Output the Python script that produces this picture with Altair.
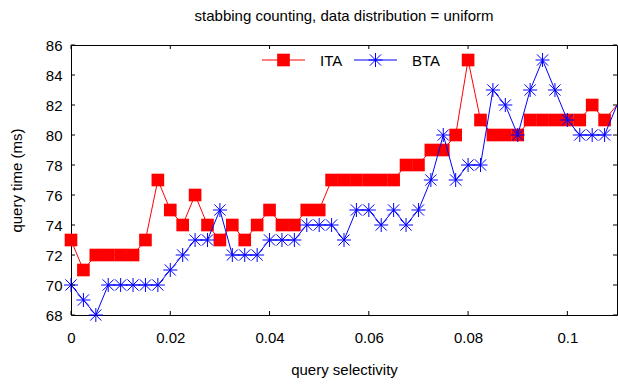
import altair as alt
import pandas as pd

# query selectivity (x) and measured query times in ms for both structures
SELECTIVITY = [0.0, 0.0025, 0.005, 0.0075, 0.01, 0.0125, 0.015, 0.0175, 0.02, 0.0225,
               0.025, 0.0275, 0.03, 0.0325, 0.035, 0.0375, 0.04, 0.0425, 0.045, 0.0475,
               0.05, 0.0525, 0.055, 0.0575, 0.06, 0.0625, 0.065, 0.0675, 0.07, 0.0725,
               0.075, 0.0775, 0.08, 0.0825, 0.085, 0.0875, 0.09, 0.0925, 0.095, 0.0975,
               0.1, 0.1025, 0.105, 0.1075, 0.11]
ITA = [73, 71, 72, 72, 72, 72, 73, 77, 75, 74, 76, 74, 73, 74, 73, 74, 75, 74, 74, 75,
       75, 77, 77, 77, 77, 77, 77, 78, 78, 79, 79, 80, 85, 81, 80, 80, 80, 81, 81, 81,
       81, 81, 82, 81, 82]
BTA = [70, 69, 68, 70, 70, 70, 70, 70, 71, 72, 73, 73, 75, 72, 72, 72, 73, 73, 73, 74,
       74, 74, 73, 75, 75, 74, 75, 74, 75, 77, 80, 77, 78, 78, 83, 82, 80, 83, 85, 83,
       81, 80, 80, 80, 82]

SERIES = ["ITA", "BTA"]
COLORS = ["#ff0000", "#0000ff"]
X_TICKS = [0, 0.02, 0.04, 0.06, 0.08, 0.1]
Y_TICKS = [68, 70, 72, 74, 76, 78, 80, 82, 84, 86]
X_MAX = 0.11
Y_MIN, Y_MAX = 68, 86
TITLE = "stabbing counting, data distribution = uniform"

FONT = "Liberation Sans"
W, H = 546, 270
TICK = 4
STAR = "M-1,0L1,0M0,-1L0,1M-0.8,-0.8L0.8,0.8M-0.8,0.8L0.8,-0.8"

rows = []
for name, vals in zip(SERIES, [ITA, BTA]):
    for s, v in zip(SELECTIVITY, vals):
        rows.append({"sel": s, "time": v, "series": name})
df = pd.DataFrame(rows)

xscale = alt.Scale(domain=[0, X_MAX], nice=False, zero=False)
yscale = alt.Scale(domain=[Y_MIN, Y_MAX], nice=False, zero=False)

x_axis = alt.Axis(values=X_TICKS, format="~g", title="query selectivity", grid=False,
                  ticks=False, tickSize=0, domain=False, labelFont=FONT, labelFontSize=15,
                  labelColor="black", labelPadding=15, labelFlush=False, labelOverlap=False,
                  titleFont=FONT, titleFontSize=15, titleFontWeight="normal",
                  titleColor="black", titleBaseline="alphabetic", titleY=59)
y_axis = alt.Axis(values=Y_TICKS, title="query time (ms)", grid=False, ticks=False,
                  tickSize=0, domain=False, labelFont=FONT, labelFontSize=15,
                  labelColor="black", labelPadding=9, labelFlush=False, labelOverlap=False,
                  titleFont=FONT, titleFontSize=15, titleFontWeight="normal",
                  titleColor="black", titleBaseline="alphabetic", titleX=-50)

X = alt.X("sel:Q", scale=xscale, axis=x_axis)
Y = alt.Y("time:Q", scale=yscale, axis=y_axis)

base = alt.Chart(df)


def series_layers(name, color, point_mark):
    sub = base.transform_filter(alt.datum.series == name)
    line = sub.mark_line(color=color, strokeWidth=1).encode(x=X, y=Y)
    pts = sub.transform_filter(f"datum.sel < {X_MAX}").mark_point(**point_mark).encode(
        x=X, y=Y)
    return [line, pts]


SQUARE_MARK = dict(shape="square", filled=True, size=160, color=COLORS[0], opacity=1)
STAR_MARK = dict(shape=STAR, filled=False, size=196, color=COLORS[1], strokeWidth=1,
                 opacity=1)

ita_layers = series_layers("ITA", COLORS[0], SQUARE_MARK)
bta_layers = series_layers("BTA", COLORS[1], STAR_MARK)

# inward tick marks on all four sides of the frame
xt = alt.Chart(pd.DataFrame({"sel": X_TICKS}))
yt = alt.Chart(pd.DataFrame({"time": Y_TICKS}))
ticks = [
    xt.mark_rule(color="black", strokeWidth=1).encode(
        x=X, y=alt.value(H), y2=alt.value(H - TICK)),
    xt.mark_rule(color="black", strokeWidth=1).encode(
        x=X, y=alt.value(0), y2=alt.value(TICK)),
    yt.mark_rule(color="black", strokeWidth=1).encode(
        y=Y, x=alt.value(0), x2=alt.value(TICK)),
    yt.mark_rule(color="black", strokeWidth=1).encode(
        y=Y, x=alt.value(W), x2=alt.value(W - TICK)),
]

# key: sample line with marker, then the series name
one = alt.Chart(pd.DataFrame({"k": [0]}))
KEY_Y = 15


def key_entry(name, color, point_mark, x0):
    return [
        one.mark_rule(color=color, strokeWidth=1).encode(
            x=alt.value(x0), x2=alt.value(x0 + 43), y=alt.value(KEY_Y)),
        one.mark_point(**point_mark).encode(x=alt.value(x0 + 21.5), y=alt.value(KEY_Y)),
        one.mark_text(text=name, align="left", baseline="middle", font=FONT, fontSize=15,
                      color="black").encode(x=alt.value(x0 + 58), y=alt.value(KEY_Y + 1)),
    ]


key = key_entry("ITA", COLORS[0], SQUARE_MARK, 191) + \
      key_entry("BTA", COLORS[1], STAR_MARK, 283)

# chart heading, centred over the plot frame
heading = one.mark_text(text=TITLE, align="center", baseline="alphabetic", font=FONT,
                        fontSize=15, color="black").encode(
    x=alt.value(W / 2), y=alt.value(-24))

chart = alt.layer(*ita_layers, *bta_layers, *ticks, *key, heading).properties(
    width=W,
    height=H,
    autosize=alt.AutoSizeParams(type="none"),
    padding={"left": 71, "top": 45, "right": 1, "bottom": 70},
    background="white",
).configure_view(stroke="black", strokeWidth=1)

chart.save("out.html", embed_options={"renderer": "svg", "actions": False})
